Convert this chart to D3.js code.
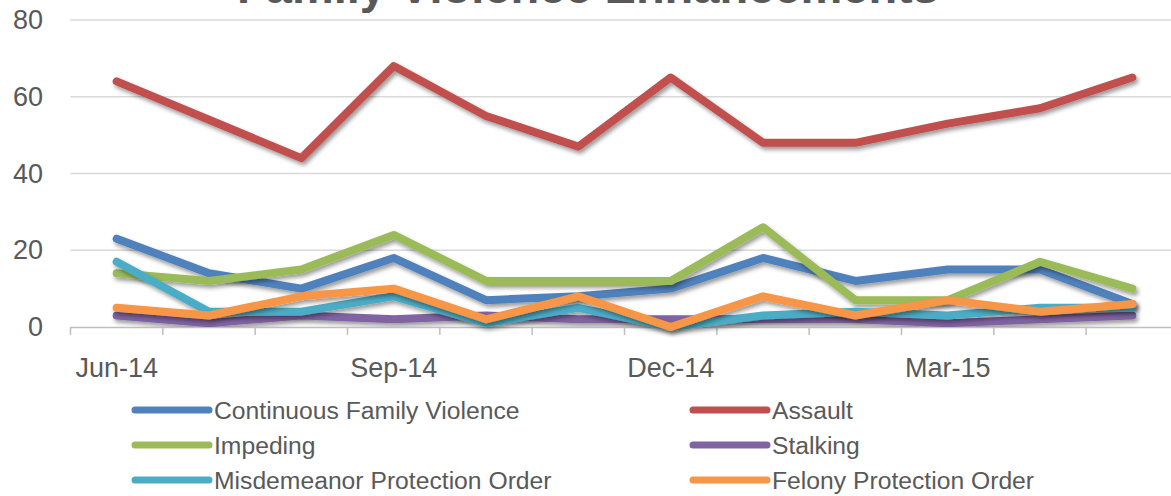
<!DOCTYPE html>
<html>
<head>
<meta charset="utf-8">
<script src="https://cdnjs.cloudflare.com/ajax/libs/d3/7.8.5/d3.min.js"></script>
<style>
  html, body { margin: 0; padding: 0; background: #fff; }
  svg { display: block; font-family: "Liberation Sans", Arial, sans-serif; }
</style>
</head>
<body>
<svg id="chart" width="1171" height="496"></svg>
<script>
const months = ['Jun-14', 'Jul-14', 'Aug-14', 'Sep-14', 'Oct-14', 'Nov-14',
  'Dec-14', 'Jan-15', 'Feb-15', 'Mar-15', 'Apr-15', 'May-15'];
const shownTicks = ['Jun-14', 'Sep-14', 'Dec-14', 'Mar-15'];
const yTicks = [0, 20, 40, 60, 80];

const seriesNames = ['Continuous Family Violence', 'Assault', 'Impeding', 'Stalking',
  'Misdemeanor Protection Order', 'Felony Protection Order'];
const seriesColors = ['#4f81bd', '#c0504d', '#9bbb59', '#8064a2', '#4bacc6', '#f79646'];

const continuousFamilyViolence = [23, 14, 10, 18, 7, 8, 10, 18, 12, 15, 15, 6];
const assault = [64, 54, 44, 68, 55, 47, 65, 48, 48, 53, 57, 65];
const impeding = [14, 12, 15, 24, 12, 12, 12, 26, 7, 7, 17, 10];
const stalking = [3, 1, 3, 2, 3, 2, 2, 2, 2, 1, 2, 3];
const misdemeanorOrder = [17, 4, 4, 8, 1, 5, 0, 3, 4, 3, 5, 5];
const felonyOrder = [5, 3, 8, 10, 2, 8, 0, 8, 3, 7, 4, 6];

const seriesValues = [continuousFamilyViolence, assault, impeding, stalking, misdemeanorOrder, felonyOrder];

const svg = d3.select('#chart');
const textColor = '#595959';

const x = d3.scaleBand().domain(months).range([70.5, 1178.5]).padding(0);
const y = d3.scaleLinear().domain([0, 80]).range([327, 20]);

// shadow like the spreadsheet lines
const defs = svg.append('defs');
defs.append('filter')
  .attr('id', 'shadow')
  .attr('x', '-10%').attr('y', '-50%').attr('width', '120%').attr('height', '200%')
  .append('feDropShadow')
  .attr('dx', 2).attr('dy', 3).attr('stdDeviation', 2)
  .attr('flood-color', '#000').attr('flood-opacity', 0.4);

// title (the reference crops it at the top edge)
svg.append('text')
  .attr('x', 588)
  .attr('y', 3)
  .attr('text-anchor', 'middle')
  .attr('font-size', 47)
  .attr('font-weight', 'bold')
  .attr('fill', textColor)
  .text('Family Violence Enhancements');

// gridlines
svg.append('g')
  .selectAll('line')
  .data(yTicks.filter(d => d > 0))
  .enter().append('line')
  .attr('x1', 70.5).attr('x2', 1178)
  .attr('y1', d => y(d)).attr('y2', d => y(d))
  .attr('stroke', '#d9d9d9').attr('stroke-width', 1.5);

// y axis labels
const yAxis = d3.axisLeft(y).tickValues(yTicks).tickSize(0).tickPadding(0);
const yg = svg.append('g')
  .attr('transform', 'translate(43,0)')
  .call(yAxis);
yg.select('.domain').remove();
yg.selectAll('text')
  .attr('font-size', 27)
  .attr('font-family', '"Liberation Sans", Arial, sans-serif')
  .attr('fill', textColor);

// x axis
const xAxis = d3.axisBottom(x).tickSize(0).tickPadding(0)
  .tickFormat(d => shownTicks.includes(d) ? d : '');
const xg = svg.append('g')
  .attr('transform', `translate(0,${y(0)})`)
  .call(xAxis);
xg.select('.domain').attr('stroke', '#bfbfbf').attr('stroke-width', 1.5);
xg.selectAll('text')
  .attr('y', 50)
  .attr('dy', 0)
  .attr('font-size', 27)
  .attr('font-family', '"Liberation Sans", Arial, sans-serif')
  .attr('fill', textColor);

// tick marks between categories
xg.selectAll('.sep')
  .data(months)
  .enter().append('line')
  .attr('class', 'sep')
  .attr('x1', d => x(d)).attr('x2', d => x(d))
  .attr('y1', 0).attr('y2', 8)
  .attr('stroke', '#bfbfbf').attr('stroke-width', 1.5);

// lines
const line = d3.line()
  .x((d, i) => x(months[i]) + x.bandwidth() / 2)
  .y(d => y(d));

svg.append('g')
  .selectAll('path')
  .data(seriesValues)
  .enter().append('path')
  .attr('d', d => line(d))
  .attr('fill', 'none')
  .attr('stroke', (d, i) => seriesColors[i])
  .attr('stroke-width', 8)
  .attr('stroke-linejoin', 'round')
  .attr('stroke-linecap', 'round')
  .attr('filter', 'url(#shadow)');

// legend
const legendCols = [135, 693];
const legendRows = [410, 445, 480];
const legend = svg.append('g')
  .selectAll('g')
  .data(seriesNames)
  .enter().append('g')
  .attr('transform', (d, i) => `translate(${legendCols[i % 2]},${legendRows[Math.floor(i / 2)]})`);

legend.append('line')
  .attr('x1', 0).attr('x2', 74)
  .attr('y1', 0).attr('y2', 0)
  .attr('stroke', (d, i) => seriesColors[i])
  .attr('stroke-width', 7)
  .attr('stroke-linecap', 'round');

legend.append('text')
  .attr('x', 79)
  .attr('y', 8.5)
  .attr('font-size', 24.7)
  .attr('fill', textColor)
  .text(d => d);
</script>
</body>
</html>
